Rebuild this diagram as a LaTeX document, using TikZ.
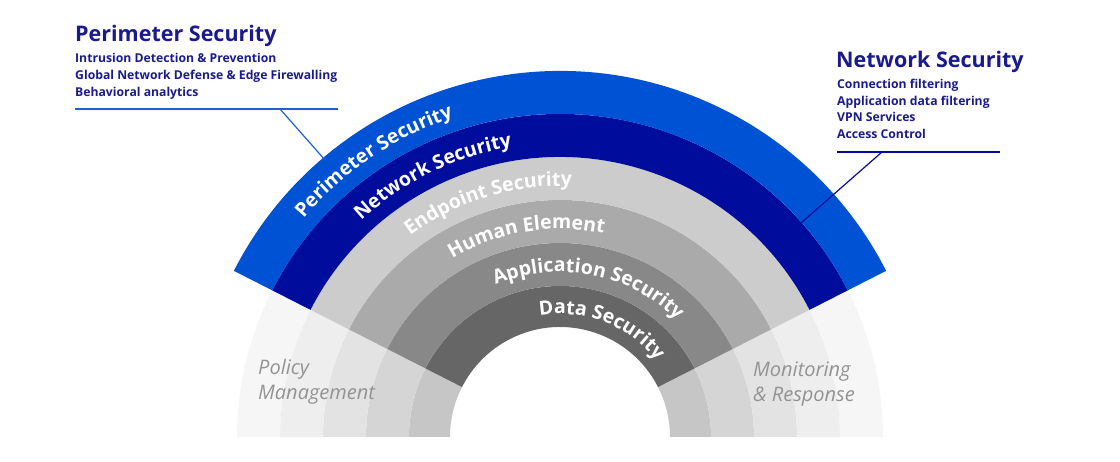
\documentclass[tikz,border=0pt]{standalone}
\usepackage{fontspec}
\setmainfont{Open Sans}
\usetikzlibrary{decorations.text}
\definecolor{perim}{HTML}{0052D4}
\definecolor{netw}{HTML}{000C9C}
\definecolor{navy}{HTML}{1A1A8C}
\definecolor{lineblue}{HTML}{1F5FD6}
\newcommand{\ringfont}{\bfseries\color{white}\fontsize{19.5}{20}\selectfont}
\newcommand{\band}[5]{% color, r1, r2, a1, a2
  \fill[#1] (#4:#2) arc[start angle=#4,end angle=#5,radius=#2] -- (#5:#3) arc[start angle=#5,end angle=#4,radius=#3] -- cycle;}
\newcommand{\ringtext}[4]{% radius, center angle, half span, text
  \path[decorate,decoration={text along path,text align=center,text={|\ringfont|#4}}]
   ({#2+#3}:#1) arc[start angle={#2+#3},end angle={#2-#3},radius=#1];}
\tikzset{
  title/.style={anchor=base west,text=navy,font=\bfseries\fontsize{21.5}{22}\selectfont,inner sep=0pt},
  item/.style={anchor=base west,text=navy,font=\bfseries\fontsize{12.2}{14}\selectfont,inner sep=0pt,align=left},
  side/.style={anchor=base west,text=gray!85,font=\itshape\fontsize{20}{25}\selectfont,inner sep=0pt,align=left},
}
\begin{document}
\begin{tikzpicture}[x=1pt,y=1pt]
\useasboundingbox (0,0) rectangle (1120,462);
\begin{scope}[shift={(560,25)}]
% lower faded sectors
\foreach \r/\R/\c in {110/151/C6C6C6,151/194/D5D5D5,194/237/E3E3E3,237/280/EEEEEE,280/323/F6F6F6}{
  \definecolor{tmp}{HTML}{\c}
  \band{tmp}{\r}{\R}{153}{180}
  \band{tmp}{\r}{\R}{0}{27}
}
% upper colored sectors
\definecolor{g1}{HTML}{666666}\definecolor{g2}{HTML}{888888}
\definecolor{g3}{HTML}{AAAAAA}\definecolor{g4}{HTML}{CCCCCC}
\band{g1}{110}{151}{27}{153}
\band{g2}{151}{194}{27}{153}
\band{g3}{194}{237}{27}{153}
\band{g4}{237}{280}{27}{153}
\band{netw}{280}{323}{27}{153}
\band{perim}{323}{366}{27}{153}
% ring labels
\ringtext{337}{124}{25}{Perimeter Security}
\ringtext{294}{116}{28}{Network Security}
\ringtext{251}{107}{30}{Endpoint Security}
\ringtext{208}{99.5}{32}{Human Element}
\ringtext{165}{79}{45}{Application Security}
\ringtext{123}{69}{40}{Data Security}
\end{scope}
% callouts
\node[title] (pt) at (75,420) {Perimeter Security};
\node[item] (pi1) at (75,399) {Intrusion Detection \& Prevention};
\node[item] (pi2) at (75,382) {Global Network Defense \& Edge Firewalling};
\node[item] (pi3) at (75,365) {Behavioral analytics};
\coordinate (pl1) at (75,353);
\coordinate (pl2) at (338,353);
\coordinate (pk) at (280,353);
\coordinate (pe) at (325,302);
\draw[lineblue,line width=1.2pt] (pl1) -- (pl2);
\draw[lineblue,line width=1.2pt] (pk) -- (pe);

\node[title] (nt) at (836,394) {Network Security};
\node[item] (ni1) at (837,373) {Connection filtering};
\node[item] (ni2) at (837,356) {Application data filtering};
\node[item] (ni3) at (837,340) {VPN Services};
\node[item] (ni4) at (837,323) {Access Control};
\coordinate (nl1) at (837,310);
\coordinate (nl2) at (1000,310);
\coordinate (nk) at (882,310);
\coordinate (ne) at (801,239);
\draw[netw,line width=1.2pt] (nl1) -- (nl2);
\draw[netw,line width=1.2pt] (nk) -- (ne);

\node[side] (pm) at (258,62) {Policy\\Management};
\node[side] (mr) at (753,60) {Monitoring\\\& Response};
\end{tikzpicture}
\end{document}
